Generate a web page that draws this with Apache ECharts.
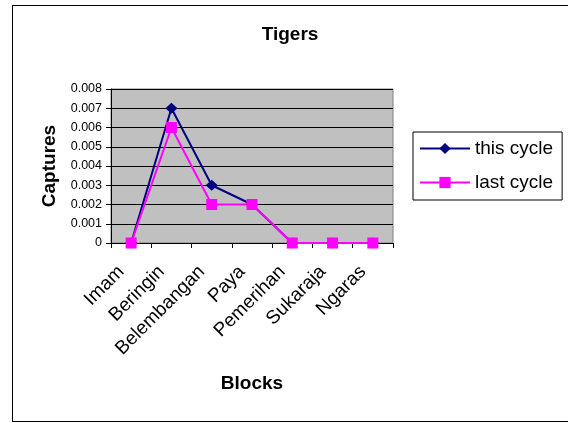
<!DOCTYPE html>
<html>
<head>
<meta charset="utf-8">
<script src="https://cdn.jsdelivr.net/npm/echarts@6/dist/echarts.min.js"></script>
<style>
  html, body { margin: 0; padding: 0; background: #fff; overflow: hidden; }
  #frame { position: absolute; left: 12px; top: 5px; width: 570px; height: 417px; border: 1px solid #000; box-sizing: border-box; }
  #chart { position: absolute; left: 0; top: 0; width: 568px; height: 423px; }
</style>
</head>
<body>
<div id="frame"></div>
<div id="chart"></div>
<script>
// Capture rates per block
const blocks = ['Imam', 'Beringin', 'Belembangan', 'Paya', 'Pemerihan', 'Sukaraja', 'Ngaras'];
const thisCycle = [0, 0.007, 0.003, 0.002, 0, 0, 0];
const lastCycle = [0, 0.006, 0.002, 0.002, 0, 0, 0];

const font = 'Liberation Sans, Arial, sans-serif';
const chart = echarts.init(document.getElementById('chart'), null, { renderer: 'canvas' });

chart.setOption({
  animation: false,
  backgroundColor: 'transparent',
  title: {
    text: 'Tigers',
    left: 285,
    top: 20,
    textAlign: 'center',
    textStyle: { fontFamily: font, fontSize: 19, fontWeight: 'bold', color: '#000' }
  },
  legend: {
    left: 413,
    top: 132,
    orient: 'vertical',
    itemWidth: 50,
    itemHeight: 14,
    itemGap: 15,
    padding: [7, 9, 8, 6],
    borderColor: '#000',
    borderWidth: 1,
    backgroundColor: '#fff',
    textStyle: { fontFamily: font, fontSize: 19, color: '#000' },
    data: ['this cycle', 'last cycle']
  },
  grid: {
    left: 111,
    right: 175,
    top: 89,
    bottom: 180,
    show: true,
    backgroundColor: '#c0c0c0',
    borderColor: '#808080',
    borderWidth: 1
  },
  xAxis: {
    type: 'category',
    data: blocks,
    boundaryGap: true,
    name: 'Blocks',
    nameLocation: 'middle',
    nameGap: 131,
    nameTextStyle: { fontFamily: font, fontSize: 19, fontWeight: 'bold', color: '#000' },
    axisLine: { lineStyle: { color: '#000', width: 1 } },
    axisTick: { show: true, length: 5, lineStyle: { color: '#000' } },
    axisLabel: {
      rotate: 45, margin: 16, padding: [0, 14, 0, 0],
      fontFamily: font, fontSize: 19, color: '#000'
    }
  },
  yAxis: {
    type: 'value',
    min: 0,
    max: 0.008,
    interval: 0.001,
    name: 'Captures',
    nameLocation: 'middle',
    nameGap: 52,
    nameTextStyle: { fontFamily: font, fontSize: 19, fontWeight: 'bold', color: '#000' },
    axisLine: { show: true, lineStyle: { color: '#000', width: 1 } },
    axisTick: { show: true, length: 5, lineStyle: { color: '#000' } },
    axisLabel: {
      fontFamily: font, fontSize: 12.5, color: '#000', margin: 9,
      formatter: v => v === 0 ? '0' : v.toFixed(3)
    },
    splitLine: { show: true, lineStyle: { color: '#000', width: 1 } }
  },
  series: [
    {
      name: 'this cycle',
      type: 'line',
      data: thisCycle,
      symbol: 'diamond',
      symbolSize: [12, 11],
      itemStyle: { color: '#000080' },
      lineStyle: { color: '#000080', width: 2 }
    },
    {
      name: 'last cycle',
      type: 'line',
      data: lastCycle,
      symbol: 'rect',
      symbolSize: 11,
      itemStyle: { color: '#ff00ff' },
      lineStyle: { color: '#ff00ff', width: 2 }
    }
  ]
});
</script>
</body>
</html>
